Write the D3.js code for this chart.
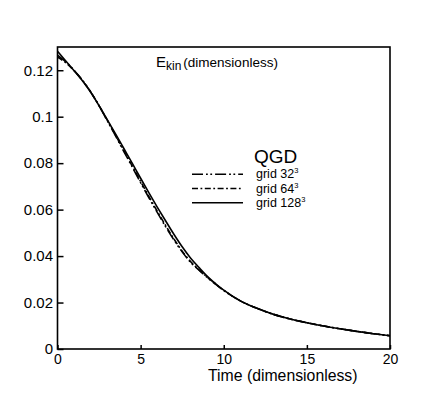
<!DOCTYPE html>
<html>
<head>
<meta charset="utf-8">
<title>E_kin QGD</title>
<script src="https://d3js.org/d3.v7.min.js"></script>
<style>
  body { margin: 0; background: #fff; }
  svg text { font-family: "Liberation Sans", Arial, sans-serif; fill: #000; }
</style>
</head>
<body>
<script>
  // data
  var time = [0, 0.5, 1, 1.5, 2, 2.5, 3, 3.5, 4, 4.5, 5, 5.5, 6, 6.5, 7, 7.5, 8, 8.5, 9, 9.5, 10,
              11, 12, 13, 14, 15, 16, 17, 18, 19, 20];
  var tail = [0.0207, 0.0175, 0.0149, 0.0129, 0.0113, 0.0099, 0.0087, 0.0076, 0.0066, 0.0057];
  var grid32 = [0.1265, 0.1236, 0.1200, 0.1157, 0.1106, 0.1047, 0.0982, 0.0916, 0.0849, 0.0783,
                0.0716, 0.0651, 0.0588, 0.0527, 0.0470, 0.0418, 0.0374, 0.0340, 0.0308, 0.0279, 0.0252].concat(tail);
  var grid64 = [0.1257, 0.1232, 0.1198, 0.1156, 0.1106, 0.1048, 0.0984, 0.0919, 0.0853, 0.0787,
                0.0721, 0.0656, 0.0593, 0.0532, 0.0474, 0.0421, 0.0377, 0.0342, 0.0310, 0.0280, 0.0253].concat(tail);
  var grid128 = [0.1282, 0.1240, 0.1198, 0.1155, 0.1105, 0.1047, 0.0986, 0.0925, 0.0862, 0.0799,
                 0.0735, 0.0672, 0.0611, 0.0552, 0.0494, 0.0440, 0.0392, 0.0352, 0.0314, 0.0282, 0.0253].concat(tail);
  var xTicks = [0, 5, 10, 15, 20];
  var yTicks = [0, 0.02, 0.04, 0.06, 0.08, 0.1, 0.12];
  var seriesNames = ["grid 32", "grid 64", "grid 128"];

  var width = 444, height = 394;
  var m = {left: 57.5, right: 54, top: 47, bottom: 45};

  var series = [
    {name: seriesNames[0], values: grid32, dash: "11,3,1.8,2.5,1.8,3"},
    {name: seriesNames[1], values: grid64, dash: "6,2.5,1.8,2.5"},
    {name: seriesNames[2], values: grid128, dash: null}
  ];

  var svg = d3.select("body").append("svg")
      .attr("width", width)
      .attr("height", height);

  var x = d3.scaleLinear().domain([0, 20]).range([m.left, width - m.right]);
  var y = d3.scaleLinear().domain([0, 0.13]).range([height - m.bottom, m.top]);

  var line = d3.line()
      .x(function (d) { return x(d[0]); })
      .y(function (d) { return y(d[1]); })
      .curve(d3.curveMonotoneX);

  series.forEach(function (s) {
    svg.append("path")
        .datum(time.map(function (t, i) { return [t, s.values[i]]; }))
        .attr("d", line)
        .attr("fill", "none")
        .attr("stroke", "#000")
        .attr("stroke-width", 1.6)
        .attr("stroke-dasharray", s.dash);
  });

  // frame
  svg.append("rect")
      .attr("x", x(0)).attr("y", y(0.13))
      .attr("width", x(20) - x(0)).attr("height", y(0) - y(0.13))
      .attr("fill", "none").attr("stroke", "#000").attr("stroke-width", 1.6);

  // axes, ticks inside
  var xAxis = svg.append("g")
      .attr("transform", "translate(0," + y(0) + ")")
      .call(d3.axisBottom(x).tickValues(xTicks).tickSizeInner(-4).tickSizeOuter(0).tickPadding(5)
        .tickFormat(d3.format("d")));
  var yAxis = svg.append("g")
      .attr("transform", "translate(" + x(0) + ",0)")
      .call(d3.axisLeft(y).tickValues(yTicks).tickSizeInner(-6).tickSizeOuter(0).tickPadding(9)
        .tickFormat(function (d) { return d === 0 ? "0" : String(+d.toFixed(2)); }));
  [xAxis, yAxis].forEach(function (g) {
    g.select(".domain").remove();
    g.selectAll("line").attr("stroke", "#000").attr("stroke-width", 1.5);
    g.selectAll("text").attr("font-size", 14).attr("font-family", "Liberation Sans, Arial, sans-serif");
  });
  yAxis.selectAll("text").attr("x", -4.5).attr("font-size", 15);

  svg.append("text")
      .attr("x", 208).attr("y", 381)
      .attr("font-size", 15.8)
      .text("Time (dimensionless)");

  var title = svg.append("text").attr("x", 156).attr("y", 67);
  title.append("tspan").attr("font-size", 15).text("E");
  title.append("tspan").attr("font-size", 12).attr("dy", 3).text("kin");
  title.append("tspan").attr("font-size", 13.5).attr("dy", -3).attr("dx", 2).text("(dimensionless)");

  // legend
  svg.append("text")
      .attr("x", 254).attr("y", 163)
      .attr("font-size", 19)
      .text("QGD");

  var rows = svg.selectAll(".leg").data(series).enter().append("g")
      .attr("class", "leg")
      .attr("transform", function (d, i) { return "translate(0," + (174.3 + i * 14.2) + ")"; });
  rows.append("line")
      .attr("x1", 192).attr("x2", 243)
      .attr("stroke", "#000").attr("stroke-width", 1.5)
      .attr("stroke-dasharray", function (d) { return d.dash; });
  var lt = rows.append("text")
      .attr("x", 256).attr("y", 4)
      .attr("font-size", 12.5);
  lt.append("tspan").text(function (d) { return d.name; });
  lt.append("tspan").attr("font-size", 7.5).attr("dy", -5).text("3");
</script>
</body>
</html>
